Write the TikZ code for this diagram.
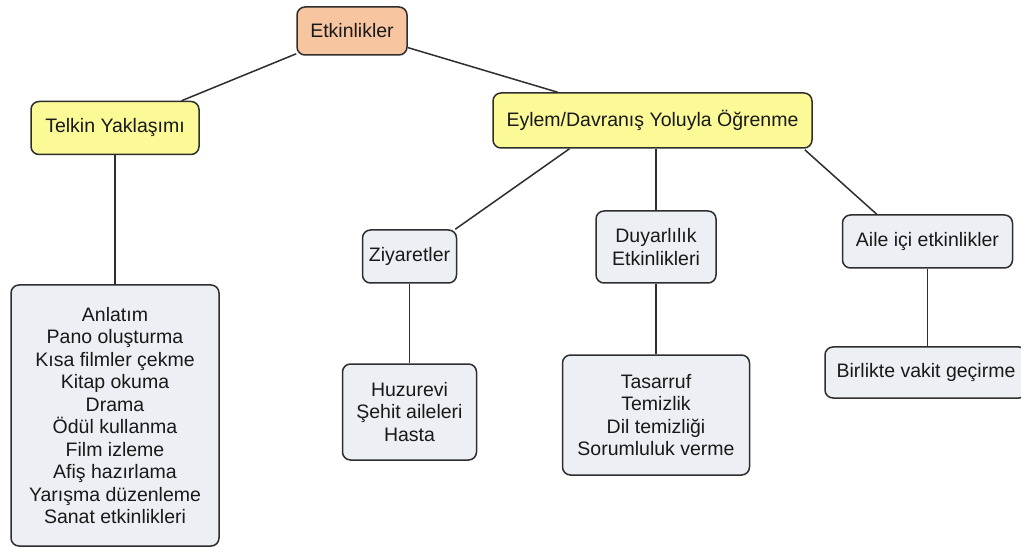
\documentclass[tikz,border=0pt]{standalone}
\usepackage{fontspec}
\setmainfont{Liberation Sans}
\definecolor{peach}{HTML}{F7C59F}
\definecolor{lemon}{HTML}{FBFA96}
\definecolor{pale}{HTML}{ECF0F4}
\definecolor{edge}{HTML}{2E2E2E}
\begin{document}
\begin{tikzpicture}[x=1pt,y=-1pt,
  box/.style={draw=edge,line width=1.5pt,rounded corners=8pt,inner sep=0pt,align=center,
    text=black!90,font=\fontsize{19.5}{22.5}\selectfont},
  topbox/.style={box,fill=peach},
  midbox/.style={box,fill=lemon},
  leafbox/.style={box,fill=pale},
  link/.style={draw=edge,line width=1.5pt}]
\useasboundingbox[fill=white] (0,0) rectangle (1021,548);
\node[topbox,minimum width=110,minimum height=48] (etk) at (352,31) {Etkinlikler};
\node[midbox,minimum width=168,minimum height=53] (telkin) at (115,128) {Telkin Yaklaşımı};
\node[midbox,minimum width=319,minimum height=55] (eylem) at (652.5,120.5) {Eylem/Davranış Yoluyla Öğrenme};
\node[leafbox,minimum width=94,minimum height=53] (ziy) at (409.5,256.5) {Ziyaretler};
\node[leafbox,minimum width=120,minimum height=72] (duy) at (656,247) {Duyarlılık\\Etkinlikleri};
\node[leafbox,minimum width=170,minimum height=53] (aile) at (927.5,241.5) {Aile içi etkinlikler};
\node[leafbox,minimum width=208,minimum height=261] (anl) at (115,415.5) {Anlatım\\Pano oluşturma\\Kısa filmler çekme\\Kitap okuma\\Drama\\Ödül kullanma\\Film izleme\\Afiş hazırlama\\Yarışma düzenleme\\Sanat etkinlikleri};
\node[leafbox,minimum width=134,minimum height=96] (huz) at (409.5,412) {Huzurevi\\Şehit aileleri\\Hasta};
\node[leafbox,minimum width=187,minimum height=120] (tas) at (656,415) {Tasarruf\\Temizlik\\Dil temizliği\\Sorumluluk verme};
\node[leafbox,minimum width=202,minimum height=51] (bir) at (926,372.5) {Birlikte vakit geçirme};
\draw[link] (etk) -- (telkin);
\draw[link] (etk) -- (eylem);
\draw[link] (telkin) -- (anl);
\draw[link] ([xshift=-83pt]eylem.south) -- ([xshift=-2pt]ziy.north east);
\draw[link] (duy.north |- eylem.south) -- (duy.north);
\draw[link] ([xshift=-8pt,yshift=-1pt]eylem.south east) -- ([xshift=35pt]aile.north west);
\draw[link] (ziy) -- (huz);
\draw[link] (duy) -- (tas);
\draw[link] (aile.south) -- (aile.south |- bir.north);
\end{tikzpicture}
\end{document}
